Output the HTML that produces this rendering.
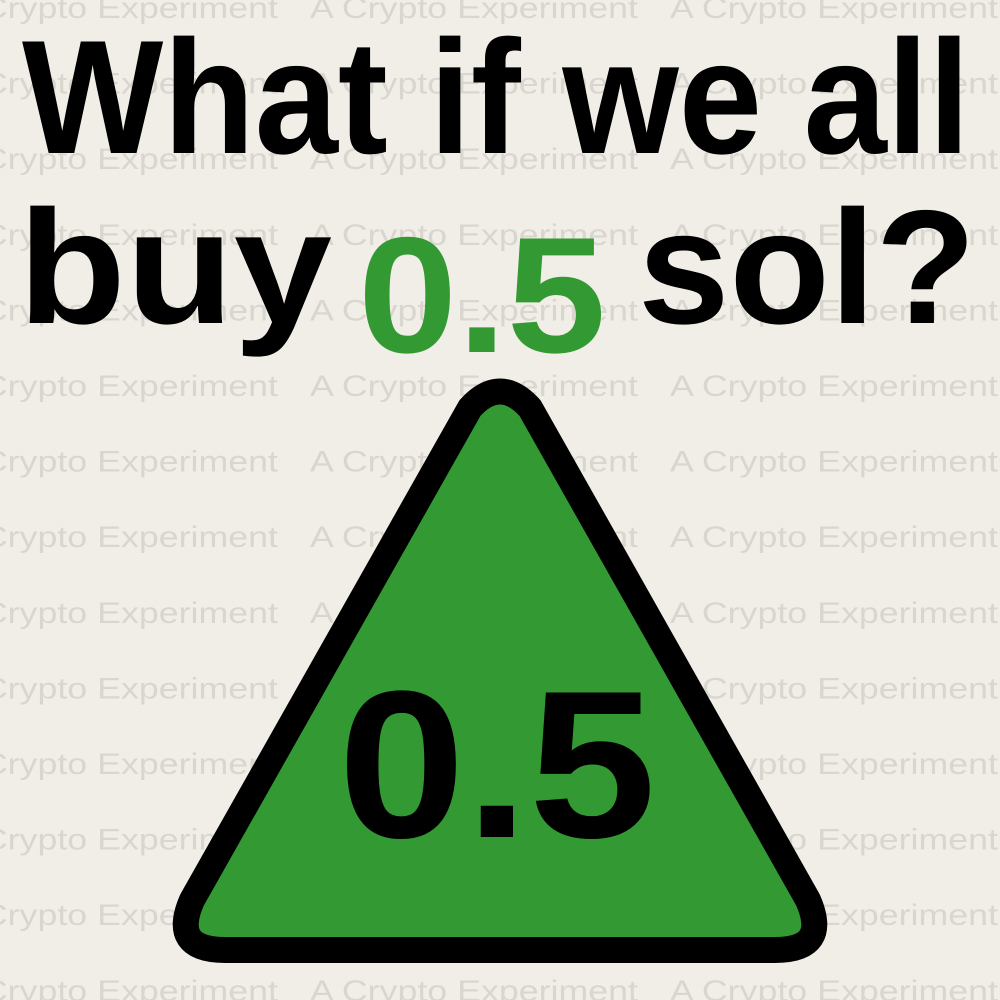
<!DOCTYPE html>
<html><head><meta charset="utf-8"><style>
html,body{margin:0;padding:0;background:#f0eee7;}
svg{display:block}
</style></head><body>
<svg width="1000" height="1000" viewBox="0 0 1000 1000">
<rect width="1000" height="1000" fill="#f0eee7"/>
<g id="wm" font-family="Liberation Sans, sans-serif" font-size="30" fill="#d9d6cf"></g>
<g font-family="Liberation Sans, sans-serif" font-weight="bold">
<text x="22" y="153" font-size="162" textLength="948" lengthAdjust="spacingAndGlyphs" fill="#000">What if we all</text>
<text x="18" y="323" font-size="162" textLength="314" lengthAdjust="spacingAndGlyphs" fill="#000">buy</text>
<text x="358" y="352" font-size="165" textLength="248" lengthAdjust="spacingAndGlyphs" fill="#339933">0.5</text>
<text x="638" y="323" font-size="162" textLength="338" lengthAdjust="spacingAndGlyphs" fill="#000">sol?</text>
</g>
<path d="M470,408 Q500,375 530,408 L808,900 Q830,950 775,950 L225,950 Q170,950 192,900 Z" fill="#339933" stroke="#000" stroke-width="26" stroke-linejoin="round"/>
<text x="338" y="837" font-family="Liberation Sans, sans-serif" font-weight="bold" font-size="210" textLength="318" lengthAdjust="spacingAndGlyphs" fill="#000">0.5</text>
</svg>
<script>
var g=document.getElementById('wm');
for(var r=0;r<14;r++){for(var c=0;c<3;c++){
var t=document.createElementNS('http://www.w3.org/2000/svg','text');
t.setAttribute('x',-50+c*360);
t.setAttribute('y',18+r*75.6);
t.setAttribute('textLength','328');
t.setAttribute('lengthAdjust','spacingAndGlyphs');
t.textContent='A Crypto Experiment';


g.appendChild(t);}}
</script>
</body></html>
